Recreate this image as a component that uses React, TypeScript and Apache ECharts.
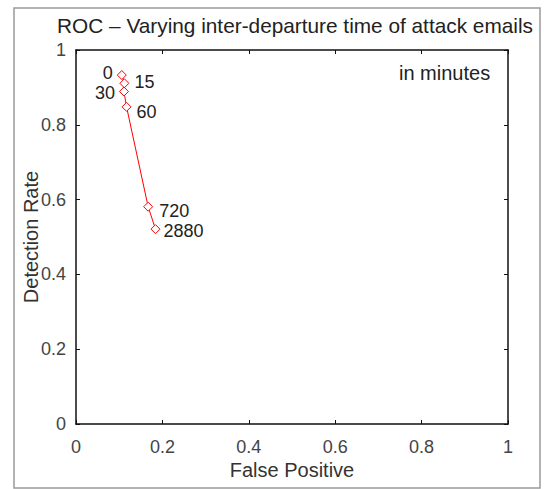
import React, { useEffect, useRef } from "react";
import * as echarts from "echarts";

const falsePositive = [0.106, 0.112, 0.111, 0.117, 0.167, 0.184];
const detectionRate = [0.933, 0.911, 0.889, 0.848, 0.581, 0.521];
const pointLabels = ["0", "15", "30", "60", "720", "2880"];
const labelSides = ["left", "right", "left", "right", "right", "right"];
const labelOffsets = [[0, -2], [1, -1], [0, 1], [1, 5], [2, 4], [-1, 2]];
const tickValues = [0, 0.2, 0.4, 0.6, 0.8, 1];

const FONT = "'Liberation Sans', Arial, sans-serif";

export default function App() {
  const ref = useRef<HTMLDivElement>(null);
  useEffect(() => {
    if (!ref.current) return;
    const chart = echarts.init(ref.current, null, { renderer: "svg" });
    const fmt = (v: number) => (tickValues.includes(v) ? String(v) : "");
    const data = falsePositive.map((x, i) => ({
      value: [x, detectionRate[i]],
      label: {
        show: true,
        formatter: pointLabels[i],
        position: labelSides[i],
        distance: 4,
        offset: labelOffsets[i],
      },
    }));
    const baseAxis = {
      min: 0,
      max: 1,
      interval: 0.2,
      axisLine: { show: true, onZero: false, lineStyle: { color: "#111", width: 1.5 } },
      axisTick: { show: true, inside: true, length: 4, lineStyle: { color: "#111" } },
      splitLine: { show: false },
    };
    chart.setOption({
      animation: false,
      backgroundColor: "#fff",
      title: {
        text: "ROC – Varying inter-departure time of attack emails",
        left: 290,
        top: 10,
        textAlign: "center",
        textStyle: { fontFamily: FONT, fontSize: 20.8, fontWeight: "normal", color: "#222" },
      },
      grid: { left: 76, top: 50, right: 36, bottom: 65, containLabel: false },
      xAxis: [
        {
          ...baseAxis,
          type: "value",
          position: "bottom",
          name: "False Positive",
          nameLocation: "middle",
          nameGap: 36,
          nameMoveOverlap: false,
          nameTextStyle: { fontFamily: FONT, fontSize: 20, color: "#333" },
          axisLabel: { fontFamily: FONT, fontSize: 18, color: "#444", margin: 14, formatter: fmt },
        },
        {
          ...baseAxis,
          type: "value",
          position: "top",
          axisLabel: { show: false },
        },
      ],
      yAxis: [
        {
          ...baseAxis,
          type: "value",
          position: "left",
          name: "Detection Rate",
          nameLocation: "middle",
          nameGap: 35,
          nameMoveOverlap: false,
          nameRotate: 90,
          nameTextStyle: { fontFamily: FONT, fontSize: 20, color: "#333" },
          axisLabel: { fontFamily: FONT, fontSize: 18, color: "#444", margin: 10, formatter: fmt },
        },
        {
          ...baseAxis,
          type: "value",
          position: "right",
          axisLabel: { show: false },
        },
      ],
      graphic: [
        {
          type: "rect",
          shape: { x: 14, y: 8, width: 526, height: 480 },
          style: { fill: "none", stroke: "#999", lineWidth: 1.5 },
          silent: true,
        },
        {
          type: "text",
          x: 399,
          y: 63,
          style: { text: "in minutes", font: `20px ${FONT}`, fill: "#222" },
        },
      ],
      series: [
        {
          type: "line",
          data,
          xAxisIndex: 0,
          yAxisIndex: 0,
          symbol: "diamond",
          symbolSize: 9,
          showAllSymbol: true,
          lineStyle: { color: "#ff0000", width: 1 },
          itemStyle: { color: "#fff", borderColor: "#ff0000", borderWidth: 1 },
          label: { fontFamily: FONT, fontSize: 18, color: "#222" },
        },
      ],
    });
    return () => chart.dispose();
  }, []);
  return <div ref={ref} style={{ width: 544, height: 489, position: "absolute", left: 0, top: 0 }} />;
}
